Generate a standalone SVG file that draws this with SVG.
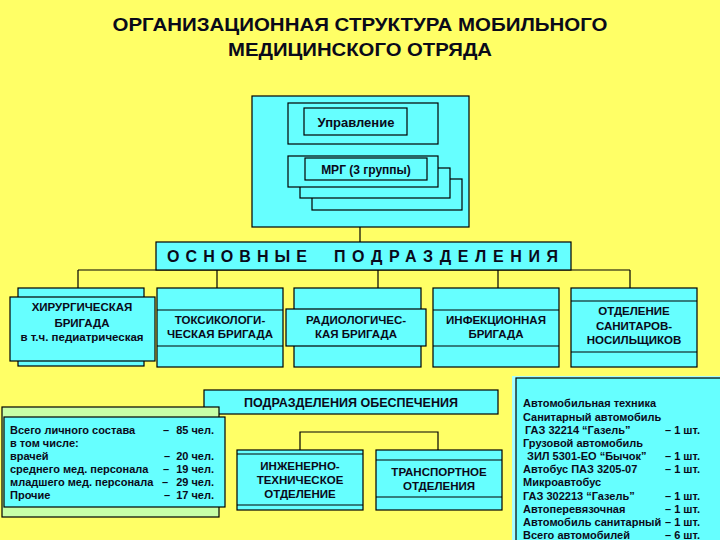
<svg xmlns="http://www.w3.org/2000/svg" width="720" height="540" viewBox="0 0 720 540">
<style>
.b{fill:#66FFFF;stroke:#000;stroke-width:1.2}
.g{fill:#C8FFA8;stroke:#000;stroke-width:1.2}
.l{stroke:#000;stroke-width:1.2;fill:none}
text{font-family:"Liberation Sans",Arial,sans-serif;font-weight:bold;fill:#0a0a1a}
.c{text-anchor:middle;font-size:11.5px}
.t{font-size:11px}
</style>
<rect width="720" height="540" fill="#FFFF66"/>
<g id="title">
<text x="360" y="31" text-anchor="middle" font-size="19" textLength="495" lengthAdjust="spacingAndGlyphs">ОРГАНИЗАЦИОННАЯ  СТРУКТУРА  МОБИЛЬНОГО</text>
<text x="360" y="56" text-anchor="middle" font-size="19" textLength="264" lengthAdjust="spacingAndGlyphs">МЕДИЦИНСКОГО  ОТРЯДА</text>
</g>
<g id="connectors">
<path class="l" d="M360 227V242"/>
<path class="l" d="M78 270H630M78 270V288M217 270V288M378 270V288M498 270V288M630 270V288"/>
<path class="l" d="M300 450V432H438V450"/>
</g>
<g id="management">
<rect class="b" x="252" y="96" width="217" height="131"/>
<rect class="b" x="288" y="103" width="150" height="41"/>
<rect class="b" x="304" y="108" width="103" height="27"/>
<text x="356" y="127" text-anchor="middle" font-size="13">Управление</text>
<rect class="b" x="312" y="179" width="150" height="31"/>
<rect class="b" x="300" y="168" width="150" height="30"/>
<rect class="b" x="288" y="156" width="150" height="31"/>
<rect class="b" x="305" y="158" width="122" height="22"/>
<text x="366" y="174" text-anchor="middle" font-size="12">МРГ (3 группы)</text>
</g>
<g id="main-units">
<rect class="b" x="156" y="242" width="415" height="28"/>
<text x="167" y="261.5" font-size="16" textLength="140">ОСНОВНЫЕ</text>
<text x="334" y="261.5" font-size="16" textLength="224">ПОДРАЗДЕЛЕНИЯ</text>
</g>
<g id="surgery">
<rect class="b" x="18" y="288" width="126" height="78"/>
<rect class="b" x="10" y="297" width="145" height="64"/>
<text class="c" x="82" y="311">ХИРУРГИЧЕСКАЯ</text>
<text class="c" x="82" y="327">БРИГАДА</text>
<text class="c" x="82" y="341" font-size="10.5">в т.ч. педиатрическая</text>
</g>
<g id="toxicology">
<rect class="b" x="157" y="288" width="126" height="79"/>
<path class="l" d="M157 310H283M157 346H283"/>
<text class="c" x="220" y="324">ТОКСИКОЛОГИ-</text>
<text class="c" x="220" y="338">ЧЕСКАЯ БРИГАДА</text>
</g>
<g id="radiology">
<rect class="b" x="294" y="288" width="127" height="79"/>
<rect class="b" x="286" y="309" width="140" height="37"/>
<text class="c" x="356" y="324">РАДИОЛОГИЧЕС-</text>
<text class="c" x="356" y="338">КАЯ БРИГАДА</text>
</g>
<g id="infection">
<rect class="b" x="433" y="288" width="126" height="79"/>
<path class="l" d="M433 310H559M433 346H559"/>
<text class="c" x="496" y="324">ИНФЕКЦИОННАЯ</text>
<text class="c" x="496" y="338">БРИГАДА</text>
</g>
<g id="stretcher">
<rect class="b" x="571" y="288" width="126" height="79"/>
<path class="l" d="M571 301H697M571 352H697"/>
<text class="c" x="634" y="315">ОТДЕЛЕНИЕ</text>
<text class="c" x="634" y="330">САНИТАРОВ-</text>
<text class="c" x="634" y="344">НОСИЛЬЩИКОВ</text>
</g>
<g id="support-units">
<rect class="b" x="204" y="390" width="294" height="24"/>
<text x="351" y="407" text-anchor="middle" font-size="12.5">ПОДРАЗДЕЛЕНИЯ  ОБЕСПЕЧЕНИЯ</text>
</g>
<g id="staff">
<rect class="g" x="2" y="407" width="217" height="110"/>
<rect class="b" x="4" y="417" width="221" height="90"/>
<text class="t" x="10" y="434">Всего личного состава</text>
<text class="t" x="163" y="434">–</text><text class="t" x="214" y="434" text-anchor="end">85 чел.</text>
<text class="t" x="10" y="447">в том числе:</text>
<text class="t" x="10" y="460">врачей</text>
<text class="t" x="164" y="460">–</text><text class="t" x="214" y="460" text-anchor="end">20 чел.</text>
<text class="t" x="10" y="473">среднего мед. персонала</text>
<text class="t" x="163" y="473">–</text><text class="t" x="214" y="473" text-anchor="end">19 чел.</text>
<text class="t" x="10" y="486">младшего мед. персонала</text>
<text class="t" x="162" y="486">–</text><text class="t" x="214" y="486" text-anchor="end">29 чел.</text>
<text class="t" x="10" y="499">Прочие</text>
<text class="t" x="164" y="499">–</text><text class="t" x="214" y="499" text-anchor="end">17 чел.</text>
</g>
<g id="engineering">
<rect class="b" x="237" y="450" width="126" height="60"/>
<path class="l" d="M237 454H363M237 505H363"/>
<text class="c" x="300" y="470">ИНЖЕНЕРНО-</text>
<text class="c" x="300" y="484">ТЕХНИЧЕСКОЕ</text>
<text class="c" x="300" y="498">ОТДЕЛЕНИЕ</text>
</g>
<g id="transport">
<rect class="b" x="376" y="450" width="126" height="60"/>
<path class="l" d="M376 460H502M376 497H502"/>
<text class="c" x="439" y="476">ТРАНСПОРТНОЕ</text>
<text class="c" x="439" y="490">ОТДЕЛЕНИЯ</text>
</g>
<g id="vehicles">
<rect x="512" y="376" width="210" height="170" fill="#A8FFFF"/>
<rect class="b" x="516" y="378" width="206" height="168"/>
<text class="t" x="523" y="407">Автомобильная техника</text>
<text class="t" x="523" y="421">Санитарный автомобиль</text>
<text class="t" x="525" y="434">ГАЗ 32214 “Газель”</text>
<text class="t" x="665" y="434">– 1 шт.</text>
<text class="t" x="523" y="447">Грузовой автомобиль</text>
<text class="t" x="527" y="460">ЗИЛ 5301-ЕО “Бычок”</text>
<text class="t" x="665" y="460">– 1 шт.</text>
<text class="t" x="523" y="473">Автобус ПАЗ 3205-07</text>
<text class="t" x="665" y="473">– 1 шт.</text>
<text class="t" x="523" y="486">Микроавтобус</text>
<text class="t" x="523" y="500">ГАЗ 302213 “Газель”</text>
<text class="t" x="665" y="500">– 1 шт.</text>
<text class="t" x="523" y="513">Автоперевязочная</text>
<text class="t" x="665" y="513">– 1 шт.</text>
<text class="t" x="523" y="526">Автомобиль санитарный</text>
<text class="t" x="665" y="526">– 1 шт.</text>
<text class="t" x="523" y="539">Всего автомобилей</text>
<text class="t" x="665" y="539">– 6 шт.</text>
</g>
</svg>
